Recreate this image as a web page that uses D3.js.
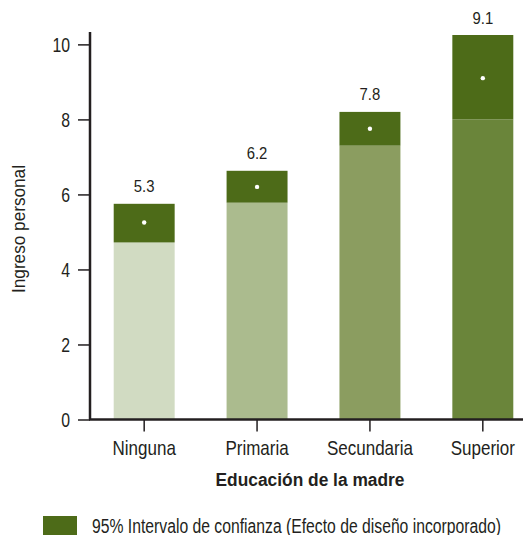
<!DOCTYPE html>
<html>
<head>
<meta charset="utf-8">
<title>Ingreso personal por educación de la madre</title>
<script src="https://d3js.org/d3.v7.min.js"></script>
<style>
body { margin: 0; background: #fff; }
svg text { font-family: "Liberation Sans Narrow", "Arial Narrow", "Liberation Sans", Arial, sans-serif; fill: #231f20; }
.axis path, .axis line { stroke: #231f20; }
.axis text { font-size: 20px; }
.xax text { font-size: 21px; }
.val { font-size: 16px; }
.title-x { font-size: 18px; font-weight: bold; }
.title-y { font-size: 19px; }
.legend text { font-size: 20px; }
</style>
</head>
<body>
<div id="chart"></div>
<script>
// data
var categories = ["Ninguna", "Primaria", "Secundaria", "Superior"];
var means = [5.25, 6.2, 7.75, 9.1];
var ciLow = [4.72, 5.78, 7.3, 8.0];
var ciHigh = [5.75, 6.63, 8.2, 10.25];
var valueLabels = ["5.3", "6.2", "7.8", "9.1"];
var yTicks = [0, 2, 4, 6, 8, 10];
var barColors = ["#d1dbc2", "#abbb8e", "#8b9d60", "#6a853a"];
var ciColor = "#4d6b18";

var W = 523, H = 535;
var svg = d3.select("#chart").append("svg")
  .attr("width", W)
  .attr("height", H);

// squeeze text horizontally, the original uses a condensed face
function squeeze(sel, f) {
  sel.each(function() {
    var w = this.getComputedTextLength();
    d3.select(this).attr("textLength", w * f).attr("lengthAdjust", "spacingAndGlyphs");
  });
}

var x = d3.scaleBand()
  .domain(categories)
  .range([90, 537])
  .paddingInner(0.46)
  .paddingOuter(0.21);

var y = d3.scaleLinear()
  .domain([0, 10.33])
  .range([419.5, 32]);

var data = categories.map(function(c, i) {
  return { cat: c, mean: means[i], lo: ciLow[i], hi: ciHigh[i], label: valueLabels[i], color: barColors[i] };
});

// bars (base up to lower CI)
svg.selectAll("rect.base")
  .data(data)
  .enter().append("rect")
  .attr("class", "base")
  .attr("x", function(d) { return x(d.cat); })
  .attr("width", x.bandwidth())
  .attr("y", function(d) { return y(d.lo); })
  .attr("height", function(d) { return y(0) - y(d.lo); })
  .style("fill", function(d) { return d.color; });

// confidence interval block
svg.selectAll("rect.ci")
  .data(data)
  .enter().append("rect")
  .attr("class", "ci")
  .attr("x", function(d) { return x(d.cat); })
  .attr("width", x.bandwidth())
  .attr("y", function(d) { return y(d.hi); })
  .attr("height", function(d) { return y(d.lo) - y(d.hi); })
  .style("fill", ciColor);

svg.selectAll("circle.mean")
  .data(data)
  .enter().append("circle")
  .attr("class", "mean")
  .attr("cx", function(d) { return x(d.cat) + x.bandwidth() / 2; })
  .attr("cy", function(d) { return y(d.mean); })
  .attr("r", 2.2)
  .style("fill", "#fff");

var vals = svg.selectAll("text.val")
  .data(data)
  .enter().append("text")
  .attr("class", "val")
  .attr("x", function(d) { return x(d.cat) + x.bandwidth() / 2; })
  .attr("y", function(d) { return y(d.hi) - 11.5; })
  .attr("text-anchor", "middle")
  .text(function(d) { return d.label; });
squeeze(vals, 0.93);

// axes
var yAxis = d3.axisLeft(y).tickValues(yTicks).tickSize(12).tickPadding(8).tickFormat(d3.format("d"));
var gy = svg.append("g")
  .attr("class", "axis")
  .attr("transform", "translate(90,0)")
  .call(yAxis);
gy.select(".domain").attr("d", "M0," + y(10.33) + "V" + y(0)).style("stroke-width", 2.5);
gy.selectAll(".tick line").style("stroke-width", 1.5);
gy.selectAll(".tick text").attr("dy", "0.36em");
squeeze(gy.selectAll(".tick text"), 0.79);

var xAxis = d3.axisBottom(x).tickSize(12).tickPadding(9);
var gx = svg.append("g")
  .attr("class", "axis xax")
  .attr("transform", "translate(0,419.5)")
  .call(xAxis);
gx.select(".domain").attr("d", "M89,0H" + W).style("stroke-width", 2.5);
gx.selectAll(".tick line").style("stroke-width", 1.5);
gx.selectAll(".tick text").attr("dy", "0.71em");
squeeze(gx.selectAll(".tick text"), 0.81);

var tx = svg.append("text")
  .attr("class", "title-x")
  .attr("x", 310)
  .attr("y", 486)
  .attr("text-anchor", "middle")
  .text("Educación de la madre");
tx.attr("textLength", 189).attr("lengthAdjust", "spacingAndGlyphs");

var ty = svg.append("text")
  .attr("class", "title-y")
  .attr("transform", "translate(25,229) rotate(-90)")
  .attr("text-anchor", "middle")
  .text("Ingreso personal");
ty.attr("textLength", 128).attr("lengthAdjust", "spacingAndGlyphs");

// legend
var legend = svg.append("g").attr("class", "legend");
legend.append("rect")
  .attr("x", 43)
  .attr("y", 516)
  .attr("width", 34)
  .attr("height", 19)
  .style("fill", ciColor);
legend.append("text")
  .attr("x", 92)
  .attr("y", 533)
  .attr("textLength", 409)
  .attr("lengthAdjust", "spacingAndGlyphs")
  .text("95% Intervalo de confianza (Efecto de diseño incorporado)");
</script>
</body>
</html>
